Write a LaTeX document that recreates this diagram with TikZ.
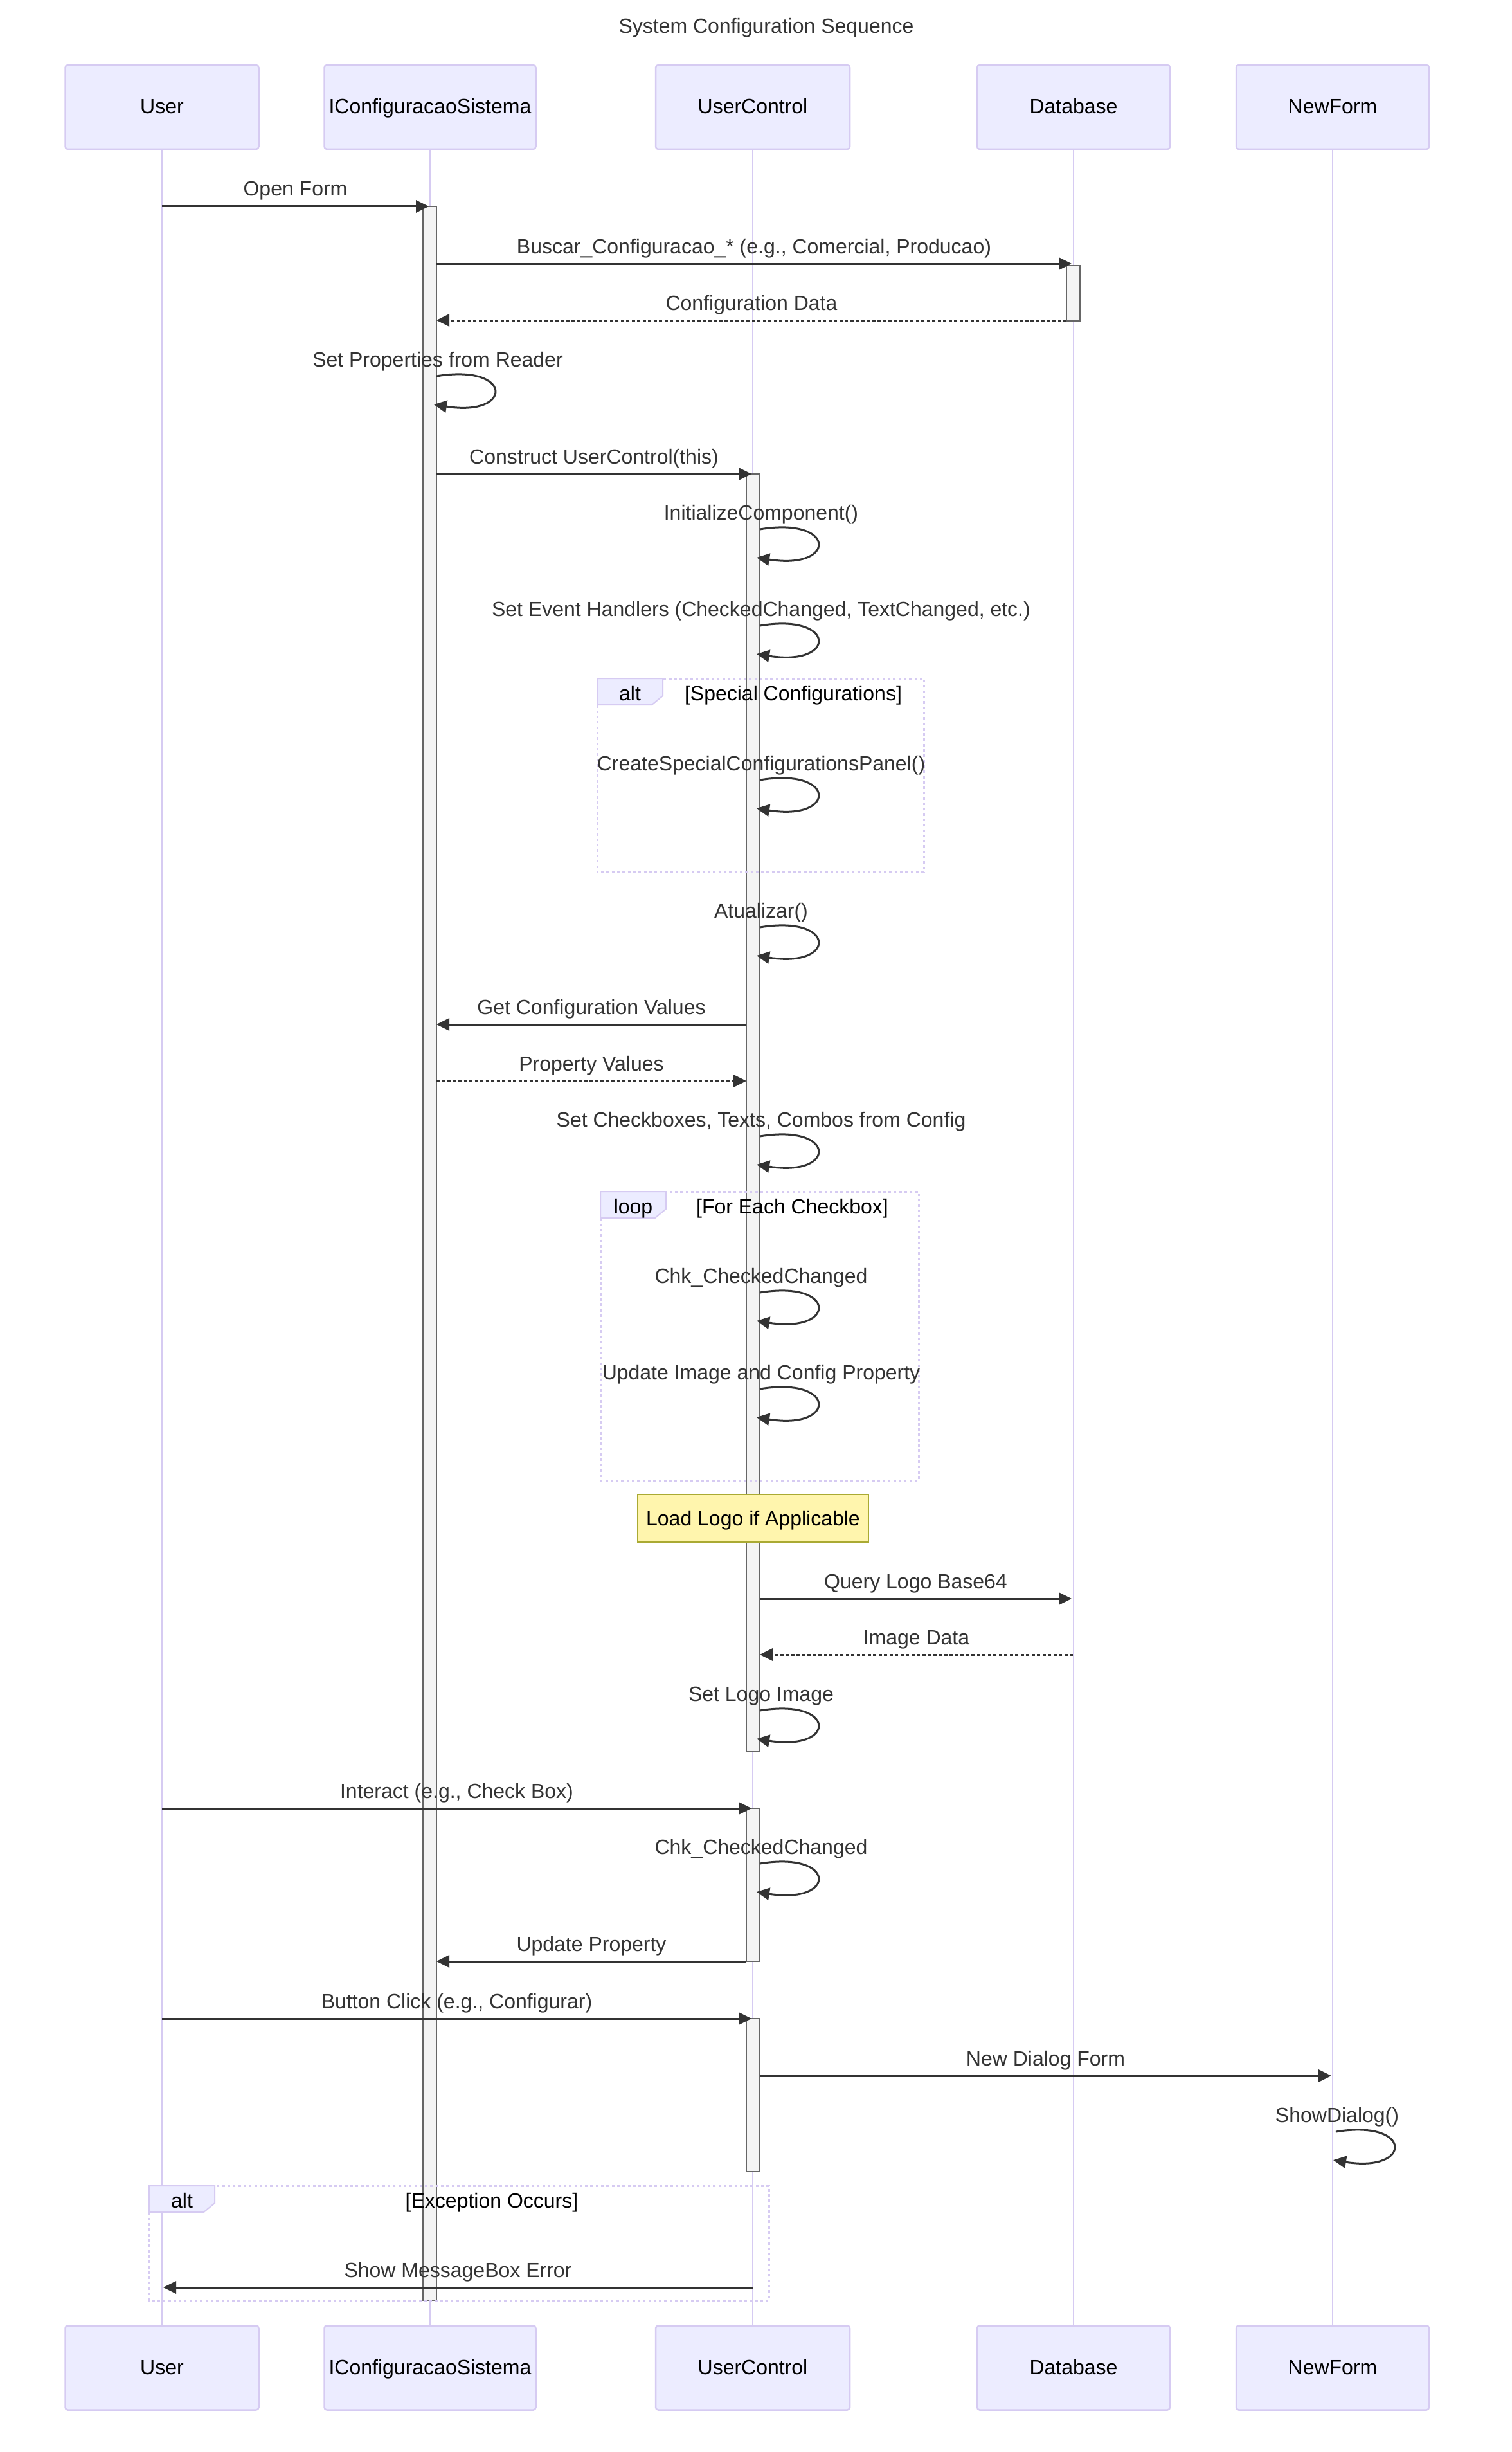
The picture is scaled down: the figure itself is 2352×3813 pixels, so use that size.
\documentclass[tikz,border=0pt]{standalone}
\usepackage{fontspec}
\setmainfont{Liberation Sans}
\usetikzlibrary{arrows.meta}

\definecolor{actfill}{HTML}{ECECFF}
\definecolor{actline}{HTML}{D6CBF2}
\definecolor{ink}{HTML}{333333}
\definecolor{barfill}{HTML}{F4F4F4}
\definecolor{barline}{HTML}{666666}
\definecolor{notefill}{HTML}{FFF5AD}
\definecolor{noteline}{HTML}{AAAA33}

\tikzset{
  actorbox/.style={draw=actline, fill=actfill, line width=2.5pt, rounded corners=4pt,
    minimum height=131pt, text height=21pt, text depth=0pt, inner sep=0pt, text=black},
  lifeline/.style={draw=actline, line width=2.5pt},
  actbar/.style={draw=barline, fill=barfill, line width=2pt},
  msgline/.style={draw=ink, line width=3pt, -{Triangle[length=20pt,width=19pt]}},
  replyline/.style={msgline, dash pattern=on 5pt off 3.5pt},
  msglabel/.style={text=ink, inner sep=0pt, anchor=base},
  framebox/.style={draw=actline, line width=3pt, dash pattern=on 4pt off 4.3pt},
  fragtab/.style={draw=actline, fill=actfill, line width=2pt},
  fraglabel/.style={text=black, inner sep=0pt, anchor=base},
  notebox/.style={draw=noteline, fill=notefill, line width=2.5pt, text=black,
    inner sep=0pt, text height=23pt, text depth=0pt},
}

% message between two lifelines: style, name, x from, x to, y, label
\newcommand{\sqmsg}[6]{%
  \coordinate (#2a) at (#3,#5);
  \coordinate (#2b) at (#4,#5);
  \draw[#1] (#2a) -- node[msglabel, midway, yshift=16pt] (#2t) {#6} (#2b);
}
% message to self: name, x start, y start, x tip, label
\newcommand{\sqself}[5]{%
  \coordinate (#1a) at (#2,#3);
  \coordinate (#1b) at (#4,#3+44);
  \node[msglabel] (#1t) at (#2+2,#3-15) {#5};
  \draw[msgline] (#1a) .. controls (#2+120,#3-20) and (#2+120,#3+64) .. (#1b);
}
% combined fragment: name, left, top, right, bottom, keyword, condition
\newcommand{\sqfrag}[7]{%
  \draw[framebox] (#2,#3) rectangle (#4,#5);
  \draw[fragtab] (#2,#3) -- (#2+102,#3) -- (#2+102,#3+27) -- (#2+85,#3+41) -- (#2,#3+41) -- cycle;
  \node[fraglabel] (#1k) at (#2+51,#3+34) {#6};
  \node[fraglabel] (#1c) at ({(#2+102+#4)/2},#3+34) {#7};
}

\begin{document}
\begin{tikzpicture}[x=1pt, y=-1pt, font=\fontsize{32}{38}\selectfont]
\fill[white] (0,0) rectangle (2352,3813);
\useasboundingbox (0,0) rectangle (2352,3813);

\node[text=ink, anchor=base, inner sep=0pt] (title) at (1192,52) {System Configuration Sequence};

% participants and lifelines
\foreach \n/\x/\w/\t in {u/252/301/User, i/669/329/IConfiguracaoSistema,
    c/1171/302/UserControl, d/1670/300/Database, n/2073/300/NewForm}{
  \node[actorbox, minimum width=\w pt] (\n Top) at (\x,166.5) {\t};
  \node[actorbox, minimum width=\w pt] (\n Bot) at (\x,3682) {\t};
  \draw[lifeline] (\n Top.south) -- (\n Bot.north);
}

% activation bars
\draw[actbar] (658,321) rectangle (679,3577);
\draw[actbar] (1659,413) rectangle (1680,499);
\draw[actbar] (1161,737) rectangle (1182,2724);
\draw[actbar] (1161,2812) rectangle (1182,3050);
\draw[actbar] (1161,3139) rectangle (1182,3377);

% combined fragments
\sqfrag{altA}{929}{1055}{1437}{1356}{alt}{[Special Configurations]}
\sqfrag{loopA}{934}{1853}{1429}{2302}{loop}{[For Each Checkbox]}
\sqfrag{altB}{232}{3399}{1196}{3577}{alt}{[Exception Occurs]}

% note
\node[notebox, minimum width=359pt, minimum height=74pt] (logoNote) at (1171.5,2361) {Load Logo if Applicable};

% messages
\sqmsg{msgline}{mA}{252}{667}{321}{Open Form}
\sqmsg{msgline}{mB}{679}{1667}{410}{Buscar\_Configuracao\_* (e.g., Comercial, Producao)}
\sqmsg{replyline}{mC}{1659}{679}{498}{Configuration Data}
\sqself{sA}{679}{585}{675}{Set Properties from Reader}
\sqmsg{msgline}{mD}{679}{1169}{737}{Construct UserControl(this)}
\sqself{sB}{1182}{823}{1177}{InitializeComponent()}
\sqself{sC}{1182}{973}{1177}{Set Event Handlers (CheckedChanged, TextChanged, etc.)}
\sqself{sD}{1182}{1213}{1177}{CreateSpecialConfigurationsPanel()}
\sqself{sE}{1182}{1442}{1177}{Atualizar()}
\sqmsg{msgline}{mE}{1161}{679}{1593}{Get Configuration Values}
\sqmsg{replyline}{mF}{679}{1161}{1681}{Property Values}
\sqself{sF}{1182}{1767}{1177}{Set Checkboxes, Texts, Combos from Config}
\sqself{sG}{1182}{2010}{1177}{Chk\_CheckedChanged}
\sqself{sH}{1182}{2160}{1177}{Update Image and Config Property}
\sqmsg{msgline}{mG}{1182}{1667}{2486}{Query Logo Base64}
\sqmsg{replyline}{mH}{1669}{1182}{2573}{Image Data}
\sqself{sI}{1182}{2660}{1177}{Set Logo Image}
\sqmsg{msgline}{mI}{252}{1169}{2812}{Interact (e.g., Check Box)}
\sqself{sJ}{1182}{2898}{1177}{Chk\_CheckedChanged}
\sqmsg{msgline}{mJ}{1161}{679}{3050}{Update Property}
\sqmsg{msgline}{mK}{252}{1169}{3139}{Button Click (e.g., Configurar)}
\sqmsg{msgline}{mL}{1182}{2071}{3228}{New Dialog Form}
\sqself{sK}{2078}{3315}{2074}{ShowDialog()}
\sqmsg{msgline}{mM}{1171}{254}{3557}{Show MessageBox Error}
\end{tikzpicture}
\end{document}
